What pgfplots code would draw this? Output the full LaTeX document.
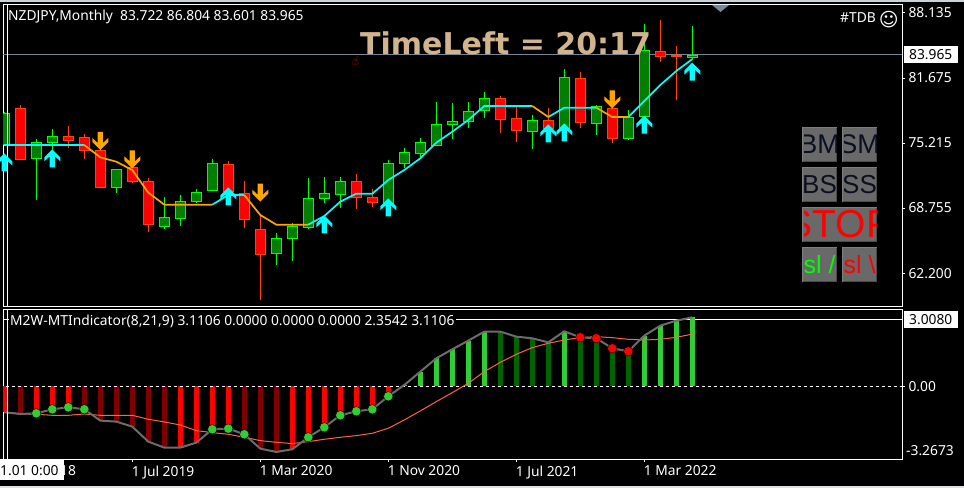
\documentclass[border=0pt]{standalone}
\usepackage{fontspec}
\setmainfont{Noto Sans}
\newfontfamily\djv{DejaVu Sans}
\newfontfamily\lib{Liberation Sans}
\usepackage{pgfplots}
\usepackage{pgfplotstable}
\pgfplotsset{compat=1.18}
\definecolor{cgreen}{HTML}{00FF00}
\definecolor{cfill}{HTML}{007F00}
\definecolor{cred}{HTML}{FF4500}
\definecolor{cfred}{HTML}{FF0000}
\definecolor{macy}{HTML}{00FFFF}
\definecolor{maor}{HTML}{FFA500}
\definecolor{hlime}{HTML}{32CD32}
\definecolor{hdkg}{HTML}{006400}
\definecolor{hdkr}{HTML}{800000}
\definecolor{sigl}{HTML}{FF6347}
\definecolor{slate}{HTML}{778899}
\definecolor{btn}{HTML}{696969}
\definecolor{btnl}{HTML}{7F7F7F}
\definecolor{btnd}{HTML}{4C4C4C}
\definecolor{tan2}{HTML}{D2B48C}
\definecolor{navy2}{HTML}{0A1020}
\pgfdeclareplotmark{uparr}{%
  \pgfpathmoveto{\pgfpoint{0pt}{0pt}}
  \pgfpathlineto{\pgfpoint{8pt}{-8pt}}
  \pgfpathlineto{\pgfpoint{8pt}{-12pt}}
  \pgfpathlineto{\pgfpoint{2.6pt}{-7pt}}
  \pgfpathlineto{\pgfpoint{2.6pt}{-18pt}}
  \pgfpathlineto{\pgfpoint{-2.6pt}{-18pt}}
  \pgfpathlineto{\pgfpoint{-2.6pt}{-7pt}}
  \pgfpathlineto{\pgfpoint{-8pt}{-12pt}}
  \pgfpathlineto{\pgfpoint{-8pt}{-8pt}}
  \pgfpathclose\pgfusepath{fill}}
\pgfdeclareplotmark{dnarr}{%
  \pgfpathmoveto{\pgfpoint{0pt}{0pt}}
  \pgfpathlineto{\pgfpoint{8pt}{8pt}}
  \pgfpathlineto{\pgfpoint{8pt}{12pt}}
  \pgfpathlineto{\pgfpoint{2.6pt}{7pt}}
  \pgfpathlineto{\pgfpoint{2.6pt}{18pt}}
  \pgfpathlineto{\pgfpoint{-2.6pt}{18pt}}
  \pgfpathlineto{\pgfpoint{-2.6pt}{7pt}}
  \pgfpathlineto{\pgfpoint{-8pt}{12pt}}
  \pgfpathlineto{\pgfpoint{-8pt}{8pt}}
  \pgfpathclose\pgfusepath{fill}}
\pgfplotstableread{
i o h l c
0 75.017 78.263 74.900 78.164
2 73.659 75.580 69.551 75.282
3 75.282 76.607 74.520 75.878
7 70.776 72.598 70.246 72.598
10 66.900 69.849 66.668 67.828
11 67.695 70.048 66.967 69.418
12 69.385 70.644 69.219 70.312
13 70.478 73.625 70.478 73.195
17 64.217 66.271 63.090 65.741
18 65.708 67.232 63.488 66.933
19 66.834 71.737 66.668 69.716
20 69.683 71.836 69.252 70.213
21 70.081 71.836 68.756 71.406
24 69.219 73.526 69.219 73.195
25 73.162 74.685 72.731 74.288
26 74.155 75.712 73.758 75.282
27 74.950 79.290 74.950 77.070
28 77.037 79.191 75.613 77.369
29 77.336 79.290 76.706 78.363
30 78.429 80.284 77.700 79.655
33 76.342 77.998 74.619 77.468
35 76.673 82.569 76.673 81.741
37 77.137 78.959 76.011 78.826
39 75.646 78.495 75.513 77.766
40 77.833 87.042 77.833 84.425
43 83.722 86.804 83.601 83.965
}\upcandles
\pgfplotstableread{
i o h l c
1 78.661 78.992 73.592 73.592
4 75.878 76.905 74.752 75.447
5 75.779 76.110 73.625 74.453
6 74.487 74.685 70.776 70.776
8 72.797 73.195 71.240 71.372
9 71.406 71.737 66.370 67.099
14 73.095 73.427 70.379 70.379
15 70.213 71.439 66.801 67.596
16 66.636 68.060 59.612 64.118
22 71.406 72.134 68.656 69.783
23 69.816 70.611 68.855 69.286
31 79.655 79.886 76.209 77.534
32 77.667 78.826 75.315 76.441
34 77.468 78.727 75.513 76.673
36 81.642 82.271 76.706 77.236
38 78.661 79.489 75.215 75.646
41 84.325 87.439 83.265 83.795
42 83.928 84.855 79.489 83.829
}\downcandles
\pgfplotstableread{
i v
0 75.017
5 75.017
nan nan
13 69.087
14 70.048
15 70.048
nan nan
19 67.099
20 67.961
21 69.385
22 70.180
23 70.180
24 71.538
25 72.533
26 73.692
27 75.249
28 76.342
29 77.501
30 78.892
31 78.892
32 78.892
33 78.892
nan nan
34 77.799
35 78.727
36 78.727
37 78.727
nan nan
39 77.799
40 79.390
41 80.980
42 82.370
43 83.560
}\macyan
\pgfplotstableread{
i v
5 75.017
6 73.791
7 73.360
8 72.532
9 70.280
10 69.087
11 69.087
12 69.087
13 69.087
nan nan
15 70.048
16 68.060
17 67.099
18 67.099
19 67.099
nan nan
33 78.892
34 77.799
nan nan
37 78.727
38 77.799
39 77.799
}\maorange
\pgfplotstableread{
i v
0 -1.172
1 -1.248
2 -1.217
3 -1.037
4 -0.947
5 -1.037
6 -1.548
7 -1.593
8 -1.819
9 -2.495
10 -2.766
11 -2.766
12 -2.540
13 -1.939
14 -1.909
15 -2.164
16 -2.811
17 -2.961
18 -2.841
19 -2.300
20 -1.849
21 -1.308
22 -1.127
23 -1.037
24 -0.451
25 0.060
26 0.661
27 1.263
28 1.668
29 2.059
30 2.465
31 2.465
32 2.239
33 2.164
34 1.984
35 2.480
36 2.209
37 2.164
38 1.713
39 1.578
40 2.285
41 2.735
42 2.961
43 3.1106
}\osc
\pgfplotstableread{
i v
0 -1.172
1 -1.233
2 -1.263
3 -1.308
4 -1.308
5 -1.248
6 -1.308
7 -1.308
8 -1.308
9 -1.488
10 -1.608
11 -1.744
12 -2.000
13 -2.089
14 -2.164
15 -2.300
16 -2.450
17 -2.525
18 -2.585
19 -2.495
20 -2.390
21 -2.300
22 -2.225
23 -2.119
24 -1.894
25 -1.518
26 -1.112
27 -0.691
28 -0.286
29 0.135
30 0.661
31 1.082
32 1.443
33 1.744
34 1.939
35 2.089
36 2.194
37 2.239
38 2.194
39 2.119
40 2.089
41 2.119
42 2.209
43 2.3542
}\sig
\pgfplotsset{mtaxis/.style={
  scale only axis, width=899pt,
  xmin=-0.08125, xmax=56.106,
  axis line style={white,line width=1pt},
  tick style={white,line width=1pt},
  major tick length=3pt, tick align=outside,
  axis background/.style={fill=black},
  tick label style={font=\fontsize{13.8}{15}\selectfont, white},
  ytick pos=right, xtick pos=bottom,
}}
\newcommand\btn[6]{% x0 ytop x1 ybot text color
  \fill[btn] (#1,488-#2) rectangle (#3,488-#4);
  \draw[btnl,line width=1.5pt] (#1+.7,488-#4) -- (#1+.7,488-#2-.7) -- (#3,488-#2-.7);
  \draw[btnd,line width=1.5pt] (#1+1,488-#4+.7) -- (#3-.7,488-#4+.7) -- (#3-.7,488-#2-1);
  \begin{scope}
    \clip (#1+2,488-#2-2) rectangle (#3-1,488-#4+2);
    \node[inner sep=0pt,text=#6] at ({(#1+#3)/2},{488-(#2+#4)/2}) {#5};
  \end{scope}}
\begin{document}
\begin{tikzpicture}[x=1pt,y=1pt]
\useasboundingbox (0,0) rectangle (964,488);
\fill[black] (0,0) rectangle (964,488);
\fill[white!62!slate] (0,486) rectangle (964,488);
\fill[white!75!slate] (0,0) rectangle (964,2);
\begin{axis}[mtaxis, at={(3pt,181pt)}, anchor=south west, height=302pt,
  ymin=58.917, ymax=88.93,
  xtick=\empty,
  ytick={88.135,81.675,75.215,68.755,62.2},
  y tick label style={/pgf/number format/.cd, fixed, fixed zerofill, precision=3, assume math mode=true, /pgf/number format/1000 sep={}},
]
\addplot[slate,line width=1pt,forget plot] coordinates {(-1,83.965)(57,83.965)};
% wicks
\addplot[draw=none,no marks,error bars/.cd,y dir=both,y explicit,error mark=none,error bar style={cgreen,line width=1pt}]
  table[x=i,y=o,y error plus expr=\thisrow{h}-\thisrow{o},y error minus expr=\thisrow{o}-\thisrow{l}] {\upcandles};
\addplot[draw=none,no marks,error bars/.cd,y dir=both,y explicit,error mark=none,error bar style={cred,line width=1pt}]
  table[x=i,y=o,y error plus expr=\thisrow{h}-\thisrow{o},y error minus expr=\thisrow{o}-\thisrow{l}] {\downcandles};
% bodies
\addplot[draw=none,no marks,error bars/.cd,y dir=both,y explicit,error mark=none,error bar style={cgreen,line width=11pt}]
  table[x=i,y expr=(\thisrow{o}+\thisrow{c})/2,y error expr={abs(\thisrow{o}-\thisrow{c})/2+0.03}] {\upcandles};
\addplot[draw=none,no marks,error bars/.cd,y dir=both,y explicit,error mark=none,error bar style={cfill,line width=9pt}]
  table[x=i,y expr=(\thisrow{o}+\thisrow{c})/2,y error expr={max(abs(\thisrow{o}-\thisrow{c})/2-0.08,0)}] {\upcandles};
\addplot[draw=none,no marks,error bars/.cd,y dir=both,y explicit,error mark=none,error bar style={cred,line width=11pt}]
  table[x=i,y expr=(\thisrow{o}+\thisrow{c})/2,y error expr={abs(\thisrow{o}-\thisrow{c})/2+0.03}] {\downcandles};
\addplot[draw=none,no marks,error bars/.cd,y dir=both,y explicit,error mark=none,error bar style={cfred,line width=9pt}]
  table[x=i,y expr=(\thisrow{o}+\thisrow{c})/2,y error expr={max(abs(\thisrow{o}-\thisrow{c})/2-0.08,0)}] {\downcandles};
% trend line
\addplot[macy,line width=1.7pt,unbounded coords=jump] table[x=i,y=v] {\macyan};
\addplot[maor,line width=1.7pt,unbounded coords=jump] table[x=i,y=v] {\maorange};
% arrows
\addplot[only marks,mark=uparr,mark options={fill=macy,draw=none}] coordinates {
 (0,74.188)(3,74.586)(14,70.809)(20,68.027)(24,69.716)(34,77.07)(35,77.17)(40,77.93)(43,83.20)};
\addplot[only marks,mark=dnarr,mark options={fill=maor,draw=none}] coordinates {
 (6,74.52)(8,72.70)(16,69.385)(38,78.661)};
\addplot[white,line width=1pt] coordinates {(0.23,58)(0.23,89)};
\end{axis}
\begin{axis}[mtaxis, at={(3pt,29pt)}, anchor=south west, height=150pt,
  ymin=-3.279, ymax=3.486,
  xtick={0,8,16,24,32,40},
  xticklabels={1 Nov 2018,1 Jul 2019,1 Mar 2020,1 Nov 2020,1 Jul 2021,1 Mar 2022},
  x tick label style={anchor=north west,xshift=-4pt,yshift=0pt},
  ytick={0}, yticklabels={0.00},
]
\addplot[white,line width=1pt] coordinates {(-1,3.008)(57,3.008)};
\addplot[ycomb,no marks,cfred,line width=5pt] coordinates {
 (0,-1.172)(2,-1.217)(3,-1.037)(4,-0.947)(11,-2.766)(12,-2.540)(13,-1.939)(14,-1.909)(18,-2.841)(19,-2.300)(20,-1.849)(21,-1.308)(22,-1.127)(23,-1.037)(24,-0.451)};
\addplot[ycomb,no marks,hdkr,line width=5pt] coordinates {
 (1,-1.248)(5,-1.037)(6,-1.548)(7,-1.593)(8,-1.819)(9,-2.495)(10,-2.766)(15,-2.164)(16,-2.811)(17,-2.961)};
\addplot[ycomb,no marks,hlime,line width=5pt] coordinates {
 (25,0.060)(26,0.661)(27,1.263)(28,1.668)(29,2.059)(30,2.465)(35,2.480)(40,2.285)(41,2.735)(42,2.961)(43,3.1106)};
\addplot[ycomb,no marks,hdkg,line width=5pt] coordinates {
 (31,2.465)(32,2.239)(33,2.164)(34,1.984)(36,2.209)(37,2.164)(38,1.713)(39,1.578)};
\addplot[white,line width=0.8pt,dash pattern=on 3pt off 3pt] coordinates {(-1,0)(57,0)};
\addplot[sigl,line width=1pt] table[x=i,y=v] {\sig};
\addplot[gray!85!black,line width=2pt] table[x=i,y=v] {\osc};
\addplot[only marks,mark=*,mark size=4.7pt,mark options={fill=hlime,draw=none}] coordinates {
 (2,-1.217)(3,-1.037)(4,-0.947)(5,-1.037)(13,-1.939)(14,-1.909)(15,-2.164)(19,-2.300)(20,-1.849)(21,-1.308)(22,-1.127)(23,-1.037)(24,-0.451)};
\addplot[only marks,mark=*,mark size=4.7pt,mark options={fill=cfred,draw=none}] coordinates {
 (36,2.209)(37,2.164)(38,1.713)(39,1.578)};
\addplot[white,line width=1pt] coordinates {(0.23,-4)(0.23,4)};
\end{axis}
% text and chart furniture
\node[anchor=base west,inner sep=0pt,font=\djv\bfseries\fontsize{30}{32}\selectfont,text=tan2] at (360,433) {TimeLeft = 20:17};
\node[anchor=base west,inner sep=0pt,text=white,font=\fontsize{13.8}{15}\selectfont] at (8,467) {NZDJPY,Monthly\ \ 83.722 86.804 83.601 83.965};
\node[anchor=base east,inner sep=0pt,text=white,font=\fontsize{13.8}{15}\selectfont] at (876,465) {\#TDB};
\node[inner sep=0pt,text=white,font=\djv\fontsize{19}{20}\selectfont] at (888.7,468.5) {☺};
\node[inner sep=0pt,text=red,font=\djv\fontsize{12}{13}\selectfont] at (355.5,427) {☝};
\fill[slate] (712,483) -- (729,483) -- (720.5,476) -- cycle;
\node[anchor=base west,fill=black,inner ysep=2pt,inner xsep=1pt,text=white,font=\fontsize{13.8}{15}\selectfont,text depth=2pt] at (9,163) {M2W-MTIndicator(8,21,9) 3.1106 0.0000 0.0000 0.0000 2.3542 3.1106};
% value flags
\fill[white] (904,425) rectangle (958,442);
\node[anchor=base west,inner sep=0pt,text=black,font=\fontsize{13.8}{15}\selectfont] at (909,428.5) {83.965};
\fill[white] (904,160) rectangle (958,177);
\node[anchor=base west,inner sep=0pt,text=black,font=\fontsize{13.8}{15}\selectfont] at (909,163.5) {3.0080};
\node[anchor=base west,inner sep=0pt,text=white,font=\fontsize{13.8}{15}\selectfont] at (906,33) {-3.2673};
\fill[white] (0,8) rectangle (64,29);
\node[anchor=base west,inner sep=0pt,text=black,font=\fontsize{13.8}{15}\selectfont] at (0,13) {1.01 0:00};
% buttons
\btn{802}{127}{837}{162}{\lib\fontsize{27}{28}\selectfont BM}{navy2}
\btn{842}{127}{877}{162}{\lib\fontsize{27}{28}\selectfont SM}{navy2}
\btn{802}{167}{837}{202}{\lib\fontsize{26}{27}\selectfont BS}{navy2}
\btn{842}{167}{877}{202}{\lib\fontsize{26}{27}\selectfont SS}{navy2}
\btn{802}{207}{877}{242}{\lib\fontsize{39}{40}\selectfont STOP}{red}
\btn{802}{247}{837}{282}{\lib\fontsize{25}{26}\selectfont sl /\hspace{8pt}}{cgreen}
\btn{842}{247}{877}{282}{\lib\fontsize{25}{26}\selectfont sl \textbackslash\hspace{8pt}}{red}
\end{tikzpicture}
\end{document}
